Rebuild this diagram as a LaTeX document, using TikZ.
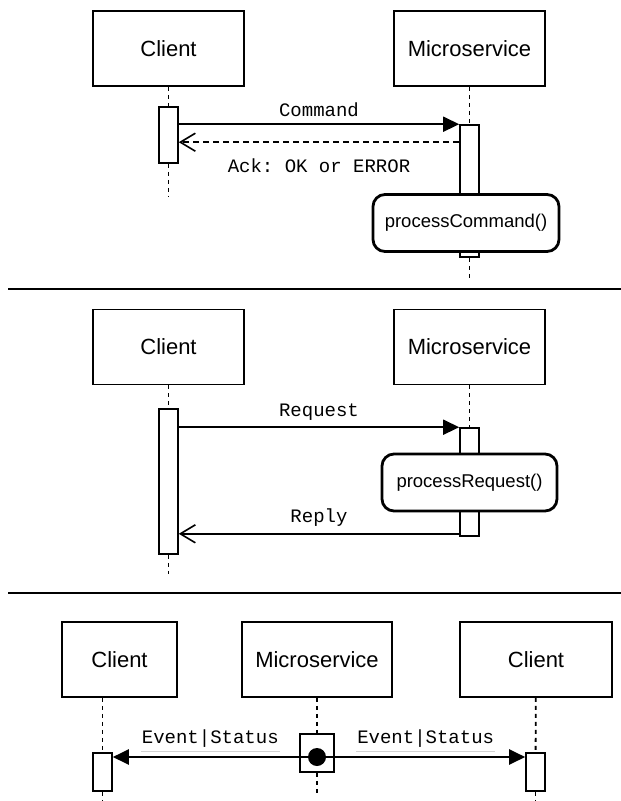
\documentclass[tikz,border=0pt]{standalone}
\usepackage{fontspec}
\setmainfont{Liberation Sans}
\setmonofont{Liberation Mono}
\usetikzlibrary{positioning, arrows.meta, calc}

\begin{document}
\begin{tikzpicture}[
        x=1pt, y=-1pt,
        actor/.style={draw, rectangle, minimum width=151pt, minimum height=75pt, line width=1.6pt, inner sep=0pt, font=\fontsize{22}{26}\selectfont},
        act/.style={draw, rectangle, fill=white, minimum width=19pt, line width=1.6pt, inner sep=0pt},
        proc/.style={draw, rectangle, rounded corners=12pt, fill=white, line width=2.8pt, minimum height=57pt, inner sep=0pt, font=\fontsize{18.5}{22}\selectfont},
        life/.style={line width=1.8pt, dash pattern=on 4pt off 4pt},
        msg/.style={font=\ttfamily\fontsize{19}{22}\selectfont},
        evlabel/.style={msg, midway, above=6pt, inner ysep=2pt, inner xsep=0pt},
        sync/.style={-{Triangle[length=16pt, width=15pt]}, line width=1.6pt},
        rep/.style={-{Straight Barb[length=15pt, width=18pt]}, line width=1.6pt},
        evt/.style={-{Triangle[length=16pt, width=15pt]}, line width=2.2pt},
        uline/.style={gray!35, line width=1pt},
        divider/.style={line width=2pt}
    ]
    \useasboundingbox (0,0) rectangle (621,801);

    % command
    \node[actor] (cli1) at (168.5,48.5) {Client};
    \node[actor] (ms1) at (469.5,48.5) {Microservice};
    \node[act, minimum height=56pt] (cli1a) at (168.5,135) {};
    \node[act, minimum height=132pt] (ms1a) at (469.5,191) {};
    \node[proc, minimum width=186pt] (pc1) at (466,223) {processCommand()};
    \coordinate (cli1end) at (168.5,196);
    \coordinate (ms1end) at (469.5,278);

    \draw[life] (cli1) -- (cli1a);
    \draw[life] (cli1a) -- (cli1end);
    \draw[life] (ms1) -- (ms1a);
    \draw[life] (ms1a) -- (ms1end);
    \draw[sync] (cli1a.east |- ms1a.north) -- (ms1a.north west) node[msg, midway, above=3pt] {Command};
    \draw[rep, dash pattern=on 6pt off 4pt] ($(ms1a.north west)+(0,18)$) -- ($(cli1a.east |- ms1a.north)+(0,18)$) node[msg, midway, below=12pt] {Ack: OK or ERROR};

    \draw[divider] (8,289) -- (621,289);

    % request / reply
    \node[actor] (cli2) at (168.5,347) {Client};
    \node[actor] (ms2) at (469.5,347) {Microservice};
    \node[act, minimum height=145pt] (cli2a) at (168.5,481.5) {};
    \node[act, minimum height=108pt] (ms2a) at (469.5,482) {};
    \node[proc, minimum width=175pt] (pr2) at (469.5,482.5) {processRequest()};
    \coordinate (cli2end) at (168.5,574);

    \draw[life] (cli2) -- (cli2a);
    \draw[life] (cli2a) -- (cli2end);
    \draw[life] (ms2) -- (ms2a);
    \draw[sync] (cli2a.east |- ms2a.north) -- (ms2a.north west) node[msg, midway, above=3pt] {Request};
    \draw[rep] ($(ms2a.south west)+(0,-3)$) -- ($(cli2a.east |- ms2a.south)+(0,-3)$) node[msg, midway, above=3pt] {Reply};

    \draw[divider] (8,593) -- (621,593);

    % event / status
    \node[actor, minimum width=115pt] (cli3) at (119.5,659.5) {Client};
    \node[actor, minimum width=150pt] (ms3) at (317,659.5) {Microservice};
    \node[actor, minimum width=152pt] (cli4) at (536,659.5) {Client};
    \node[act, minimum height=38pt] (cli3a) at (102.5,772) {};
    \node[act, minimum height=38pt] (cli4a) at (535.5,772) {};
    \node[act, minimum width=34pt, minimum height=38pt] (ms3a) at (317,753) {};
    \node[circle, fill, inner sep=0pt, minimum size=18pt] (src) at (317,757) {};
    \coordinate (cli3end) at (102.5,801);
    \coordinate (cli4end) at (535.5,801);
    \coordinate (ms3end) at (317,796);

    \draw[life] (cli3a.north |- cli3.south) -- (cli3a);
    \draw[life] (cli3a) -- (cli3end);
    \draw[life] (ms3) -- (ms3a);
    \draw[life] (ms3a) -- (ms3end);
    \draw[life] (cli4) -- (cli4a);
    \draw[life] (cli4a) -- (cli4end);
    \draw[evt] (src) -- (src -| cli3a.east) node[evlabel] (ev1) {Event|Status};
    \draw[evt] (src) -- (src -| cli4a.west) node[evlabel] (ev2) {Event|Status};
    \draw[uline] (ev1.south west) -- (ev1.south east);
    \draw[uline] (ev2.south west) -- (ev2.south east);

\end{tikzpicture}
\end{document}
